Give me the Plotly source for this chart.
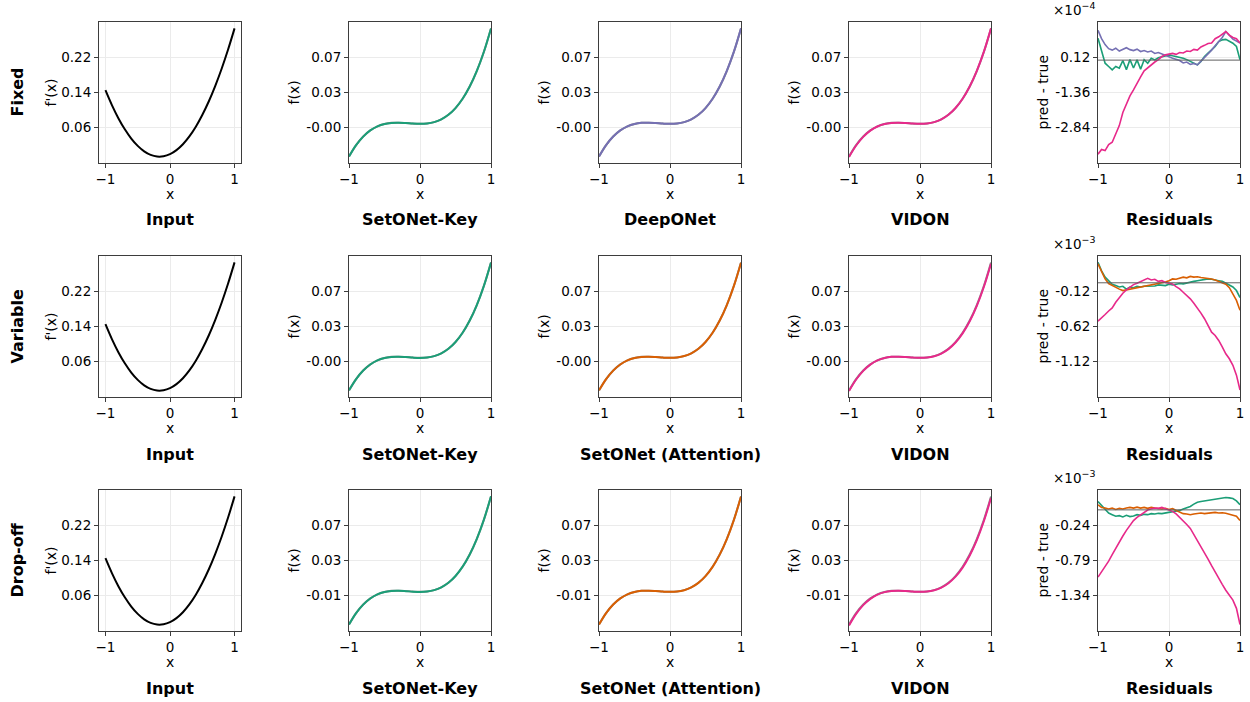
import plotly.graph_objects as go

# ---------------- data ----------------
X_COARSE = [round(-1 + 0.1 * i, 2) for i in range(21)]
X_FINE = [round(-1 + 0.05 * i, 2) for i in range(41)]

F_PRIME = [0.1471, 0.1128, 0.0827, 0.0571, 0.0358, 0.0189, 0.0063, -0.0019, -0.0057, -0.0051,
           -0.0002, 0.0091, 0.0227, 0.0407, 0.0631, 0.0899, 0.1210, 0.1565, 0.1964, 0.2406, 0.2892]
F_TRUE = [-0.03675, -0.02379, -0.01405, -0.00710, -0.00249, 0.00020, 0.00143, 0.00161, 0.00120, 0.00062,
          0.00031, 0.00072, 0.00227, 0.00541, 0.01056, 0.01818, 0.02869, 0.04253, 0.06013, 0.08195, 0.10840]

# residuals (in units of 10^exp shown above each panel)
RES_FIXED_KEY = [0.92, 0.43, -0.13, -0.27, -0.41, -0.27, -0.34, -0.02, -0.40, 0.02, -0.33, 0.01, -0.38, 0.02,
                 -0.13, 0.08, 0.01, 0.10, 0.15, 0.20, 0.22, 0.18, 0.15, 0.12, 0.08, 0.02, -0.06, -0.13, -0.20,
                 -0.06, 0.15, 0.29, 0.43, 0.57, 0.78, 0.85, 0.87, 0.78, 0.71, 0.57, 0.01]
RES_FIXED_DEEPONET = [1.25, 0.90, 0.65, 0.48, 0.42, 0.50, 0.38, 0.46, 0.52, 0.44, 0.40, 0.46, 0.36, 0.40, 0.34,
                      0.38, 0.28, 0.32, 0.25, 0.20, 0.14, 0.08, 0.04, -0.02, -0.12, -0.08, -0.18, -0.14, -0.20,
                      -0.05, 0.08, 0.25, 0.42, 0.60, 0.78, 0.95, 1.20, 1.05, 0.88, 0.80, 0.72]
RES_FIXED_VIDON = [-3.95, -3.75, -3.80, -3.55, -3.45, -3.10, -2.75, -2.20, -1.85, -1.50, -1.25, -0.95, -0.70,
                   -0.45, -0.32, -0.20, -0.08, 0.02, 0.15, 0.22, 0.25, 0.28, 0.24, 0.32, 0.30, 0.38, 0.36, 0.45,
                   0.42, 0.55, 0.62, 0.70, 0.72, 0.90, 0.98, 1.10, 1.20, 1.05, 0.95, 0.90, 0.72]

RES_VAR_KEY = [0.29, 0.17, 0.08, 0.03, -0.02, -0.04, -0.06, -0.05, -0.09, -0.06, -0.07, -0.05, -0.06, -0.05,
               -0.05, -0.04, -0.045, -0.03, -0.03, -0.04, -0.02, -0.03, -0.02, -0.01, -0.015, 0.00, 0.01, 0.02,
               0.03, 0.04, 0.05, 0.055, 0.05, 0.045, 0.03, 0.02, -0.01, -0.03, -0.06, -0.11, -0.21]
RES_VAR_ATTN = [0.27, 0.15, 0.055, -0.01, -0.04, -0.07, -0.09, -0.11, -0.10, -0.09, -0.08, -0.07, -0.06, -0.055,
                -0.05, -0.04, -0.03, -0.02, -0.01, 0.01, 0.03, 0.055, 0.05, 0.07, 0.08, 0.07, 0.09, 0.08, 0.085,
                0.075, 0.07, 0.06, 0.055, 0.04, 0.02, 0.01, -0.02, -0.07, -0.16, -0.25, -0.39]
RES_VAR_VIDON = [-0.545, -0.49, -0.45, -0.40, -0.356, -0.276, -0.205, -0.148, -0.10, -0.063, -0.026, -0.007,
                 0.02, 0.04, 0.064, 0.04, 0.05, 0.02, 0.03, 0.003, -0.007, -0.016, -0.054, -0.087, -0.134, -0.18,
                 -0.228, -0.29, -0.356, -0.43, -0.51, -0.606, -0.70, -0.747, -0.818, -0.91, -1.007, -1.078,
                 -1.17, -1.31, -1.52]

RES_DROP_KEY = [0.13, 0.069, 0.002, -0.05, -0.075, -0.10, -0.09, -0.11, -0.085, -0.105, -0.095, -0.075, -0.085,
                -0.07, -0.075, -0.059, -0.065, -0.054, -0.059, -0.049, -0.049, -0.039, -0.023, -0.008, 0.013,
                0.028, 0.054, 0.09, 0.12, 0.13, 0.14, 0.15, 0.16, 0.166, 0.17, 0.18, 0.192, 0.187, 0.177, 0.14,
                0.079]
RES_DROP_ATTN = [0.079, 0.038, 0.028, 0.013, 0.028, 0.007, 0.023, 0.013, 0.028, 0.038, 0.028, 0.043, 0.028,
                 0.038, 0.023, 0.038, 0.028, 0.018, 0.013, 0.023, 0.007, 0.018, -0.008, -0.034, -0.059, -0.064,
                 -0.075, -0.064, -0.054, -0.049, -0.059, -0.054, -0.044, -0.039, -0.049, -0.044, -0.054, -0.064,
                 -0.085, -0.10, -0.167]
RES_DROP_VIDON = [-1.049, -0.972, -0.895, -0.80, -0.70, -0.598, -0.495, -0.408, -0.32, -0.239, -0.167, -0.116,
                  -0.075, -0.039, -0.003, 0.018, 0.028, 0.023, 0.038, 0.018, 0.002, -0.023, -0.064, -0.116,
                  -0.167, -0.228, -0.29, -0.382, -0.475, -0.562, -0.664, -0.767, -0.87, -0.972, -1.075, -1.162,
                  -1.254, -1.33, -1.408, -1.536, -1.79]

ROW_LABELS = ["Fixed", "Variable", "Drop-off"]
COL_TITLES = [
    ["Input", "SetONet-Key", "DeepONet", "VIDON", "Residuals"],
    ["Input", "SetONet-Key", "SetONet (Attention)", "VIDON", "Residuals"],
    ["Input", "SetONet-Key", "SetONet (Attention)", "VIDON", "Residuals"],
]
ROW_RESIDUALS = [
    [RES_FIXED_KEY, RES_FIXED_DEEPONET, RES_FIXED_VIDON],
    [RES_VAR_KEY, RES_VAR_ATTN, RES_VAR_VIDON],
    [RES_DROP_KEY, RES_DROP_ATTN, RES_DROP_VIDON],
]
RES_EXP = [-4, -3, -3]

F_PRIME_TICKS = ["0.06", "0.14", "0.22"]
F_TICKS = [["-0.00", "0.03", "0.07"], ["-0.00", "0.03", "0.07"], ["-0.01", "0.03", "0.07"]]
RES_TICKS = [["-2.84", "-1.36", "0.12"], ["-1.12", "-0.62", "-0.12"], ["-1.34", "-0.79", "-0.24"]]

# ---------------- style ----------------
GREEN, PURPLE, ORANGE, PINK = "#1b9e77", "#7570b3", "#d95f02", "#e7298a"
ROW_COLORS = [[GREEN, PURPLE, PINK], [GREEN, ORANGE, PINK], [GREEN, ORANGE, PINK]]
FONT = "DejaVu Sans"
W, H = 1250, 702
COL_LEFT = [99, 349, 599, 849, 1098]
ROW_TOP = [22, 256, 490]
PW, PH = 142, 141
FRAME = "#3d3d3d"
GRID = "#ebebeb"


def px(x):
    return x / W


def py(y):
    return 1 - y / H


fig = go.Figure()
annotations = []
shapes = []
layout = {}


def pad_range(vals):
    lo, hi = min(vals), max(vals)
    p = 0.05 * (hi - lo)
    return [lo - p, hi + p]


for r in range(3):
    for c in range(5):
        idx = r * 5 + c + 1
        xa = "x" if idx == 1 else f"x{idx}"
        ya = "y" if idx == 1 else f"y{idx}"
        scale = 10.0 ** RES_EXP[r]
        if c == 0:
            fig.add_trace(go.Scatter(x=X_COARSE, y=F_PRIME, mode="lines", xaxis=xa, yaxis=ya,
                                     line=dict(color="black", width=2, shape="spline"), showlegend=False))
            yr = pad_range(F_PRIME)
            ytext = F_PRIME_TICKS
            xr = [-1.1, 1.1]
            ylab = "f'(x)"
        elif c in (1, 2, 3):
            res = ROW_RESIDUALS[r][c - 1][::2]
            pred = [f + e * scale for f, e in zip(F_TRUE, res)]
            fig.add_trace(go.Scatter(x=X_COARSE, y=F_TRUE, mode="lines", xaxis=xa, yaxis=ya, opacity=0.45,
                                     line=dict(color="black", width=2, shape="spline"), showlegend=False))
            fig.add_trace(go.Scatter(x=X_COARSE, y=pred, mode="lines", xaxis=xa, yaxis=ya,
                                     line=dict(color=ROW_COLORS[r][c - 1], width=2, shape="spline"),
                                     showlegend=False))
            yr = pad_range(F_TRUE)
            ytext = F_TICKS[r]
            xr = [-1, 1]
            ylab = "f(x)"
        else:
            for k in range(3):
                fig.add_trace(go.Scatter(x=X_FINE, y=ROW_RESIDUALS[r][k], mode="lines", xaxis=xa, yaxis=ya,
                                         line=dict(color=ROW_COLORS[r][k], width=1.6), showlegend=False))
            t = [float(s) for s in RES_TICKS[r]]
            step = t[1] - t[0]
            yr = [t[1] - 2 * step, t[1] + 2 * step]
            ytext = RES_TICKS[r]
            xr = [-1, 1]
            ylab = "pred - true"
            shapes.append(dict(type="line", xref=f"{xa} domain", yref=ya, x0=0, x1=1, y0=0, y1=0,
                               line=dict(color="#606060", width=1)))
            annotations.append(dict(text=f"×10<sup>−{abs(RES_EXP[r])}</sup>", x=px(COL_LEFT[c] - 2),
                                    y=py(ROW_TOP[r] - 3), xref="paper", yref="paper", xanchor="right",
                                    yanchor="bottom", showarrow=False, borderpad=0,
                                    font=dict(family=FONT, size=13.5, color="black")))
        span = yr[1] - yr[0]
        tickvals = [yr[0] + 0.25 * span, yr[0] + 0.5 * span, yr[0] + 0.75 * span]
        left, top = COL_LEFT[c], ROW_TOP[r]
        common = dict(showline=True, mirror=True, linecolor=FRAME, linewidth=1, showgrid=True,
                      gridcolor=GRID, gridwidth=1, zeroline=False, ticks="outside", ticklen=4,
                      tickcolor=FRAME, automargin=False,
                      tickfont=dict(family=FONT, size=13.5, color="black"))
        layout["xaxis" if idx == 1 else f"xaxis{idx}"] = dict(
            domain=[px(left), px(left + PW)], anchor=ya, range=xr, tickvals=[-1, 0, 1], **common)
        layout["yaxis" if idx == 1 else f"yaxis{idx}"] = dict(
            domain=[py(top + PH), py(top)], anchor=xa, range=yr, tickvals=tickvals, ticktext=ytext, **common)
        # axis labels & titles
        cx = left + PW / 2
        annotations.append(dict(text="x", x=px(cx), y=py(top + 172), xref="paper", yref="paper",
                                xanchor="center", yanchor="middle", showarrow=False,
                                font=dict(family=FONT, size=14, color="black")))
        annotations.append(dict(text=COL_TITLES[r][c], x=px(cx), y=py(top + 198), xref="paper", yref="paper",
                                xanchor="center", yanchor="middle", showarrow=False,
                                font=dict(family=FONT, size=16, color="black", weight="bold")))
        off = 49 if c == 0 else 56
        annotations.append(dict(text=ylab, x=px(left - off), y=py(top + PH / 2), xref="paper", yref="paper",
                                xanchor="center", yanchor="middle", textangle=-90, showarrow=False,
                                font=dict(family=FONT, size=14, color="black")))
    annotations.append(dict(text=ROW_LABELS[r], x=px(17), y=py(ROW_TOP[r] + PH / 2), xref="paper",
                            yref="paper", xanchor="center", yanchor="middle", textangle=-90, showarrow=False,
                            font=dict(family=FONT, size=16, color="black", weight="bold")))

fig.update_layout(width=W, height=H, margin=dict(l=0, r=0, t=0, b=0, autoexpand=False),
                  plot_bgcolor="white", paper_bgcolor="white", annotations=annotations, shapes=shapes,
                  font=dict(family=FONT, color="black"), **layout)
fig.write_html("out.html")
